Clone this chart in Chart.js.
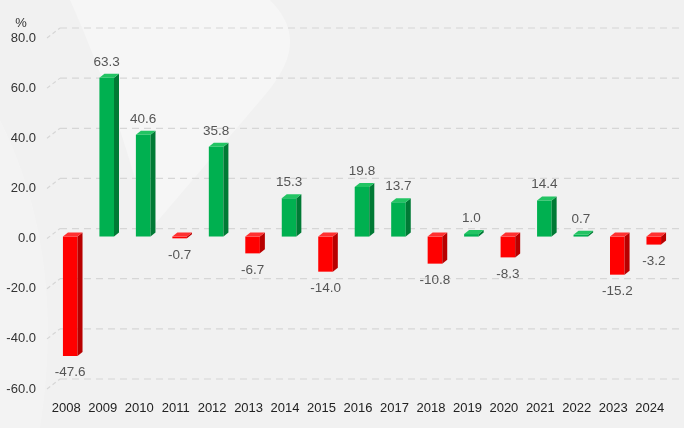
<!DOCTYPE html>
<html>
<head>
<meta charset="utf-8">
<script src="https://cdn.jsdelivr.net/npm/chart.js@4.4.1/dist/chart.umd.min.js"></script>
<style>
    html, body { margin: 0; padding: 0; background: #f1f1f1; }
    #wrap { width: 684px; height: 428px; }
</style>
</head>
<body>
<div id="wrap"><canvas id="growthChart" width="684" height="428"></canvas></div>
<script>
// Data
const years = ["2008", "2009", "2010", "2011", "2012", "2013", "2014", "2015", "2016",
    "2017", "2018", "2019", "2020", "2021", "2022", "2023", "2024"];
const growth = [-47.6, 63.3, 40.6, -0.7, 35.8, -6.7, 15.3, -14.0, 19.8,
    13.7, -10.8, 1.0, -8.3, 14.4, 0.7, -15.2, -3.2];
const yTicks = [-60, -40, -20, 0, 20, 40, 60, 80];

const GREEN = { front: "#00b050", side: "#007a35", top: "#22c463" };
const RED = { front: "#ff0000", side: "#b80000", top: "#ff3030" };
const DX = 5, DY = -4;          // bar depth
const SHIFT_X = 4, SHIFT_Y = -2; // bars sit a little back from the front plane

const colorsFor = (v) => (v >= 0 ? GREEN : RED);

// background with faint watermark swoosh
const backdrop = {
    id: "backdrop",
    beforeDraw(chart) {
        const { ctx, width, height } = chart;
        ctx.save();
        ctx.fillStyle = "#f1f1f1";
        ctx.fillRect(0, 0, width, height);
        ctx.fillStyle = "rgba(255,255,255,0.35)";
        ctx.beginPath();
        ctx.moveTo(70, 0);
        ctx.lineTo(270, 0);
        ctx.bezierCurveTo(300, 30, 295, 60, 265, 95);
        ctx.lineTo(150, 230);
        ctx.bezierCurveTo(130, 160, 110, 90, 70, 0);
        ctx.fill();
        ctx.fillStyle = "rgba(255,255,255,0.2)";
        ctx.beginPath();
        ctx.moveTo(0, 120);
        ctx.bezierCurveTo(40, 200, 60, 300, 40, 428);
        ctx.lineTo(0, 428);
        ctx.fill();
        ctx.restore();
    },
};

// dashed gridlines on the back wall with slanted floor edge
const wallGrid = {
    id: "wallGrid",
    beforeDatasetsDraw(chart) {
        const { ctx, chartArea, scales } = chart;
        const y = scales.y;
        ctx.save();
        ctx.strokeStyle = "#d6d6d6";
        ctx.lineWidth = 1.2;
        yTicks.forEach((t) => {
            const py = y.getPixelForValue(t);
            ctx.setLineDash([4, 3]);
            ctx.beginPath();
            ctx.moveTo(chartArea.left - 1, py);
            ctx.lineTo(chartArea.left + 12, py - 10);
            ctx.stroke();
            ctx.setLineDash([7, 5]);
            ctx.beginPath();
            ctx.moveTo(chartArea.left + 12, py - 10);
            ctx.lineTo(chart.width, py - 10);
            ctx.stroke();
        });
        ctx.setLineDash([]);
        ctx.fillStyle = "#333";
        ctx.font = "13px 'Liberation Sans', Arial, sans-serif";
        ctx.textAlign = "center";
        ctx.textBaseline = "middle";
        ctx.fillText("%", 21, 23);
        ctx.restore();

        // shift front faces back a touch
        chart.ctx.save();
        chart.ctx.translate(SHIFT_X, SHIFT_Y);
    },
    afterDatasetsDraw(chart) {
        const { ctx } = chart;
        const meta = chart.getDatasetMeta(0);
        meta.data.forEach((bar, i) => {
            const v = growth[i];
            const c = colorsFor(v);
            const half = bar.width / 2;
            const left = bar.x - half;
            const right = bar.x + half;
            const top = Math.min(bar.y, bar.base);
            const bottom = Math.max(bar.y, bar.base);
            // side face
            ctx.fillStyle = c.side;
            ctx.beginPath();
            ctx.moveTo(right, top);
            ctx.lineTo(right + DX, top + DY);
            ctx.lineTo(right + DX, bottom + DY);
            ctx.lineTo(right, bottom);
            ctx.closePath();
            ctx.fill();
            // top face
            ctx.fillStyle = c.top;
            ctx.beginPath();
            ctx.moveTo(left, top);
            ctx.lineTo(left + DX, top + DY);
            ctx.lineTo(right + DX, top + DY);
            ctx.lineTo(right, top);
            ctx.closePath();
            ctx.fill();
        });
        ctx.restore();

        // value labels
        ctx.save();
        ctx.fillStyle = "#555";
        ctx.font = "13.5px 'Liberation Sans', Arial, sans-serif";
        ctx.textAlign = "center";
        meta.data.forEach((bar, i) => {
            const v = growth[i];
            const x = bar.x + SHIFT_X;
            if (v >= 0) {
                ctx.textBaseline = "bottom";
                ctx.fillText(v.toFixed(1), x, bar.y + SHIFT_Y + DY - 5);
            } else {
                ctx.textBaseline = "top";
                ctx.fillText(v.toFixed(1), x, bar.y + SHIFT_Y + 10);
            }
        });
        ctx.restore();
    },
};

new Chart(document.getElementById("growthChart"), {
    type: "bar",
    data: {
        labels: years,
        datasets: [
            {
                data: growth,
                backgroundColor: growth.map((v) => colorsFor(v).front),
                borderWidth: 0,
                barPercentage: 0.4,
                categoryPercentage: 1,
            },
        ],
    },
    options: {
        responsive: false,
        animation: false,
        layout: { padding: { top: 38, right: 16, left: 0, bottom: 0 } },
        plugins: {
            legend: { display: false },
            tooltip: { enabled: false },
        },
        scales: {
            x: {
                grid: { display: false, drawTicks: false },
                border: { display: false },
                ticks: {
                    color: "#222",
                    padding: 12,
                    maxRotation: 0,
                    font: { family: "'Liberation Sans', Arial, sans-serif", size: 13 },
                },
                afterFit(scale) { scale.height = 39; },
            },
            y: {
                min: -60,
                max: 80,
                grid: { display: false, drawTicks: false },
                border: { display: false },
                afterBuildTicks(scale) {
                    scale.ticks = yTicks.map((v) => ({ value: v }));
                },
                ticks: {
                    color: "#333",
                    padding: 12,
                    callback: (v) => Number(v).toFixed(1),
                    font: { family: "'Liberation Sans', Arial, sans-serif", size: 13 },
                },
                afterFit(scale) { scale.width = 48; },
            },
        },
    },
    plugins: [backdrop, wallGrid],
});
</script>
</body>
</html>
